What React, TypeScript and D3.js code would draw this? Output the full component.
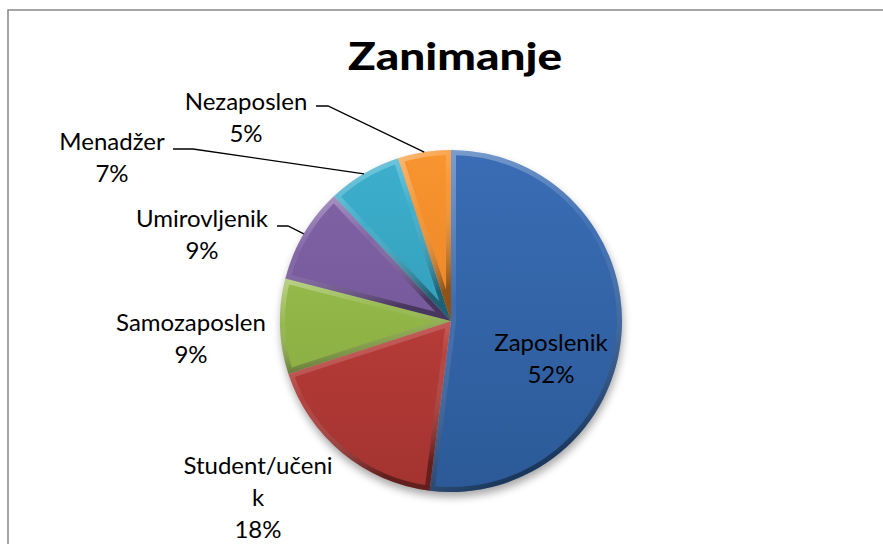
import React from "react";
import * as d3 from "d3";

const categories = ["Zaposlenik", "Student/učenik", "Samozaposlen", "Umirovljenik", "Menadžer", "Nezaposlen"];
const values = [52, 18, 9, 9, 7, 5];
const labelLines = [["Zaposlenik", "52%"], ["Student/učeni", "k", "18%"], ["Samozaposlen", "9%"], ["Umirovljenik", "9%"], ["Menadžer", "7%"], ["Nezaposlen", "5%"]];
const colors = ["#2C5A98", "#A33330", "#83A33C", "#6A4E8E", "#2A8FAB", "#E07A1E"];
const topColors = ["#3A6DB5", "#C8443F", "#A0C652", "#8265A8", "#3DB0CE", "#F8952F"];

const W = 883, H = 544;
const cx = 451, cy = 321, R = 171;
// label anchor positions (layout)
const labelPos: [number, number][] = [[551, 343], [258, 466], [191, 323], [202, 219], [112, 142], [246, 102]];
const leaderStart: ([number, number][] | null)[] = [null, null, null, [[277, 226], [288, 226]], [[173, 149], [193, 149]], [[316, 106], [328, 106]]];

export default function App() {
  const pie = d3.pie<number>().value(d => d).sort(null).startAngle(0).endAngle(2 * Math.PI);
  const arcs = pie(values);
  const arc = d3.arc<d3.PieArcDatum<number>>().innerRadius(0).outerRadius(R);
  const font = "Lato, 'Open Sans', sans-serif";
  return (
    <svg width={W} height={H} style={{ display: "block", position: "absolute", left: 0, top: 0 }}>
      <defs>
        <filter id="sh" x="-20%" y="-20%" width="140%" height="140%">
          <feGaussianBlur stdDeviation="4" />
        </filter>
        {arcs.map((a, i) => (
          <linearGradient key={i} id={`g${i}`} gradientUnits="userSpaceOnUse" x1={0} y1={-R} x2={0} y2={R}>
            <stop offset="0" stopColor={topColors[i]} />
            <stop offset="1" stopColor={colors[i]} />
          </linearGradient>
        ))}
        <linearGradient id="bev" x1="0" y1="0" x2="0.3" y2="1">
          <stop offset="0" stopColor="#fff" stopOpacity="0.35" />
          <stop offset="0.45" stopColor="#fff" stopOpacity="0.05" />
          <stop offset="1" stopColor="#000" stopOpacity="0.4" />
        </linearGradient>
        {arcs.map((a, i) => (
          <clipPath key={i} id={`c${i}`}>
            <path d={arc(a) || ""} />
          </clipPath>
        ))}
      </defs>
      <rect x={0} y={0} width={W} height={H} fill="#fff" />
      <rect x={8} y={10} width={W} height={H} fill="none" stroke="#888" strokeWidth={1.5} />
      <text x={348} y={70} fontFamily={font} fontWeight={900} fontSize={38} fill="#000" textLength={214} lengthAdjust="spacingAndGlyphs">Zanimanje</text>
      <circle cx={cx + 1} cy={cy + 5} r={R} fill="#000" opacity={0.35} filter="url(#sh)" />
      <g transform={`translate(${cx},${cy})`}>
        {arcs.map((a, i) => (
          <g key={i}>
            <path d={arc(a) || ""} fill={`url(#g${i})`} />
            <path d={arc(a) || ""} fill="none" stroke="url(#bev)" strokeWidth={10} strokeLinejoin="round" clipPath={`url(#c${i})`} />
          </g>
        ))}
      </g>
      {arcs.map((a, i) => {
        const st = leaderStart[i];
        if (!st) return null;
        const mid = (a.startAngle + a.endAngle) / 2;
        const ex = cx + R * Math.sin(mid), ey = cy - R * Math.cos(mid);
        const pts = [...st, [ex, ey]];
        return <polyline key={i} points={pts.map(p => p.join(",")).join(" ")} fill="none" stroke="#000" strokeWidth={1.3} />;
      })}
      {labelLines.map((lines, i) => (
        <text key={i} x={labelPos[i][0]} y={labelPos[i][1]} textAnchor="middle" fontFamily={font} fontSize={24} fill="#000">
          {lines.map((l, j) => (
            <tspan key={j} x={labelPos[i][0]} dy={j === 0 ? "0.35em" : 32}>{l}</tspan>
          ))}
        </text>
      ))}
    </svg>
  );
}
